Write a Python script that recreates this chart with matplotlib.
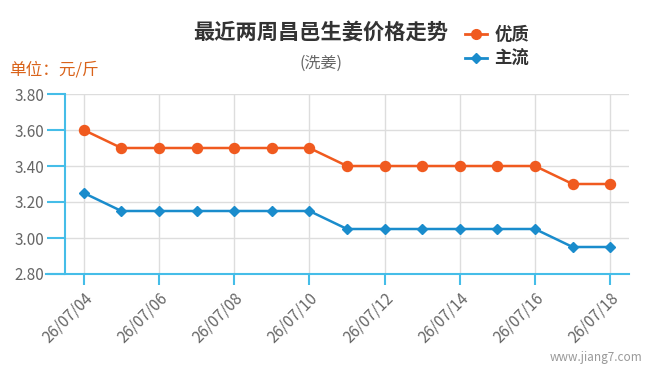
import matplotlib
matplotlib.use("Agg")
import matplotlib.pyplot as plt
from matplotlib.lines import Line2D

plt.rcParams['font.family'] = ['Noto Sans CJK SC', 'DejaVu Sans']

# 数据
dates = ['26/07/04', '26/07/05', '26/07/06', '26/07/07', '26/07/08', '26/07/09',
         '26/07/10', '26/07/11', '26/07/12', '26/07/13', '26/07/14', '26/07/15',
         '26/07/16', '26/07/17', '26/07/18']
youzhi = [3.60, 3.50, 3.50, 3.50, 3.50, 3.50, 3.50, 3.40, 3.40, 3.40, 3.40, 3.40, 3.40, 3.30, 3.30]
zhuliu = [3.25, 3.15, 3.15, 3.15, 3.15, 3.15, 3.15, 3.05, 3.05, 3.05, 3.05, 3.05, 3.05, 2.95, 2.95]
yticks = [2.80, 3.00, 3.20, 3.40, 3.60, 3.80]

orange = '#f05a1f'
blue = '#1a8ccc'
axis_blue = '#45bde8'

fig = plt.figure(figsize=(6.5, 3.74), dpi=100)
ax = fig.add_axes([65 / 650, 1 - 274 / 374, (629 - 65) / 650, (274 - 94) / 374])

x = list(range(len(dates)))
ax.plot(x, youzhi, color=orange, lw=1.8, marker='o', ms=7.2, zorder=3)
ax.plot(x, zhuliu, color=blue, lw=1.8, marker='D', ms=5.5, zorder=3)

ax.set_xlim(-0.5, len(dates) - 0.5)
ax.set_ylim(2.80, 3.80)
ax.set_yticks(yticks)
ax.set_yticklabels(['%.2f' % v for v in yticks], fontsize=11, color='#666666')
ax.set_xticks(x[::2])
ax.set_xticklabels(dates[::2], rotation=45, ha='right', rotation_mode='anchor',
                   fontsize=11, color='#666666')

ax.grid(True, color='#dddddd', lw=1)
ax.set_axisbelow(True)
for s in ['top', 'right']:
    ax.spines[s].set_visible(False)
for s in ['left', 'bottom']:
    ax.spines[s].set_color(axis_blue)
    ax.spines[s].set_linewidth(1.5)
ax.spines['bottom'].set_bounds(-1.0, len(dates) - 0.5)
ax.tick_params(axis='both', colors=axis_blue, width=1.5, length=8, labelcolor='#666666')
ax.tick_params(axis='y', length=13, pad=2)

fig.text(321 / 650, 1 - 32 / 374, '最近两周昌邑生姜价格走势', ha='center', va='center',
         fontsize=15.3, fontweight='bold', color='#333333')
fig.text(321 / 650, 1 - 63 / 374, '(洗姜)', ha='center', va='center',
         fontsize=11.5, color='#666666')
fig.text(9 / 650, 1 - 70 / 374, '单位：元/斤', ha='left', va='center',
         fontsize=12, color='#d9631a')
fig.text(1 - 8 / 650, 1 - 358 / 374, 'www.jiang7.com', ha='right', va='center',
         fontsize=8.5, color='#999999')

handles = [Line2D([], [], color=orange, lw=2, marker='o', ms=7),
           Line2D([], [], color=blue, lw=2, marker='D', ms=5)]
leg = fig.legend(handles, ['优质', '主流'], loc='upper left',
                 bbox_to_anchor=(449 / 650, 1 - 10 / 374), frameon=False,
                 handlelength=1.3, handletextpad=0.4, labelspacing=0.35,
                 prop={'weight': 'bold', 'size': 12.5})
for t in leg.get_texts():
    t.set_color('#333333')

fig.savefig('out.png', dpi=100)
